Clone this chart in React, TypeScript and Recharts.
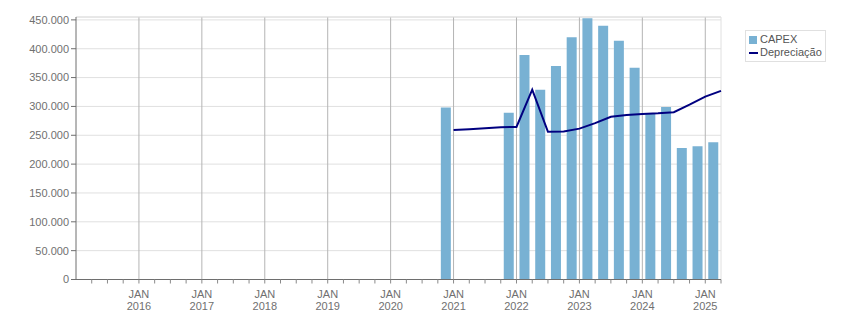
import {
  ComposedChart,
  XAxis,
  YAxis,
  CartesianGrid,
  Bar,
  Line,
  Legend,
  ReferenceLine,
} from 'recharts';

// CAPEX per quarter (bar drawn at quarter midpoint)
const capexQuarters = [
  '2020Q4', '2021Q4', '2022Q1', '2022Q2', '2022Q3', '2022Q4', '2023Q1', '2023Q2',
  '2023Q3', '2023Q4', '2024Q1', '2024Q2', '2024Q3', '2024Q4', '2025Q1',
];
const capexValues = [
  298000, 289000, 389000, 329000, 370000, 420000, 453000, 440000,
  414000, 367000, 287000, 299000, 228000, 231000, 238000,
];

// Depreciação, one point at the start of each quarter
const deprMonths = [
  '2021-01', '2021-04', '2021-07', '2021-10', '2022-01', '2022-04', '2022-07', '2022-10', '2023-01',
  '2023-04', '2023-07', '2023-10', '2024-01', '2024-04', '2024-07', '2024-10', '2025-01', '2025-04',
];
const deprValues = [
  259000, 260500, 262000, 264000, 264500, 329000, 256000, 256500, 261500,
  271000, 282000, 285000, 287000, 288000, 290000, 303000, 317000, 327000,
];

const yTicks = [0, 50000, 100000, 150000, 200000, 250000, 300000, 350000, 400000, 450000];
const years = [2016, 2017, 2018, 2019, 2020, 2021, 2022, 2023, 2024, 2025];

const X_MIN = 2015;
const X_MAX = 2025.25;
const quarterTicks = Array.from({ length: 41 }, (_, i) => X_MIN + (i + 1) * 0.25);

const quarterMid = (q: string) => Number(q.slice(0, 4)) + (Number(q.slice(5)) - 1) / 4 + 0.125;
const monthStart = (m: string) => Number(m.slice(0, 4)) + (Number(m.slice(5)) - 1) / 12;

const capexData = capexQuarters.map((q, i) => ({ t: quarterMid(q), capex: capexValues[i] }));
const deprData = deprMonths.map((m, i) => ({ t: monthStart(m), depr: deprValues[i] }));

const FONT = '"Liberation Sans", Arial, sans-serif';
const TEXT = '#707070';
const BAR = '#78b1d3';
const NAVY = '#000080';

const fmt = (v: number) => String(v).replace(/\B(?=(\d{3})+(?!\d))/g, '.');

const YearTick = (props: any) => {
  const { x, y, payload } = props;
  if (!Number.isInteger(payload.value)) return <g />;
  return (
    <text x={x} y={y} textAnchor="middle" fill={TEXT} fontSize={11} fontFamily={FONT}>
      <tspan x={x} y={y + 12}>JAN</tspan>
      <tspan x={x} y={y + 24}>{payload.value}</tspan>
    </text>
  );
};

const LegendBox = () => (
  <div
    style={{
      border: '1px solid #e0e0e0',
      padding: '2px 3px',
      fontFamily: FONT,
      fontSize: 11,
      color: '#555',
      lineHeight: '13px',
      background: '#fff',
    }}
  >
    <div style={{ display: 'flex', alignItems: 'center' }}>
      <span style={{ width: 8, height: 8, background: BAR, marginRight: 3 }} />
      CAPEX
    </div>
    <div style={{ display: 'flex', alignItems: 'center' }}>
      <span style={{ width: 9, height: 2, background: NAVY, marginRight: 2 }} />
      Depreciação
    </div>
  </div>
);

export default function App() {
  return (
    <div style={{ position: 'absolute', left: 0, top: 0, width: 851, height: 313, background: '#fff' }}>
      <ComposedChart
        width={851}
        height={313}
        data={capexData}
        margin={{ top: 17, right: 130, bottom: 3.5, left: 6 }}
      >
        <CartesianGrid vertical={false} stroke="#e0e0e0" />
        {years.map((yr) => (
          <ReferenceLine key={yr} x={yr} stroke="#b4b4b4" />
        ))}
        <ReferenceLine y={455000} stroke="#e0e0e0" />
        <ReferenceLine x={X_MAX} stroke="#e0e0e0" />
        <XAxis
          dataKey="t"
          type="number"
          domain={[X_MIN, X_MAX]}
          ticks={quarterTicks}
          interval={0}
          height={30}
          tick={<YearTick />}
          tickSize={4}
          tickMargin={2}
          axisLine={{ stroke: '#6e6e6e' }}
          tickLine={{ stroke: '#8a8a8a' }}
        />
        <XAxis xAxisId="line" dataKey="t" type="number" domain={[X_MIN, X_MAX]} hide />
        <YAxis
          width={70}
          domain={[0, 455000]}
          ticks={yTicks}
          interval={0}
          tickFormatter={fmt}
          tickSize={5}
          tickMargin={2}
          tick={{ fontSize: 11, fill: TEXT, fontFamily: FONT }}
          axisLine={{ stroke: '#6e6e6e' }}
          tickLine={{ stroke: '#6e6e6e' }}
        />
        <Bar dataKey="capex" name="CAPEX" fill={BAR} barSize={10} isAnimationActive={false} />
        <Line
          xAxisId="line"
          data={deprData}
          dataKey="depr"
          name="Depreciação"
          type="linear"
          stroke={NAVY}
          strokeWidth={2}
          dot={false}
          isAnimationActive={false}
        />
        <Legend
          layout="horizontal"
          verticalAlign="middle"
          align="center"
          content={<LegendBox />}
          wrapperStyle={{ left: 745, top: 30, width: 'auto' }}
        />
      </ComposedChart>
    </div>
  );
}
